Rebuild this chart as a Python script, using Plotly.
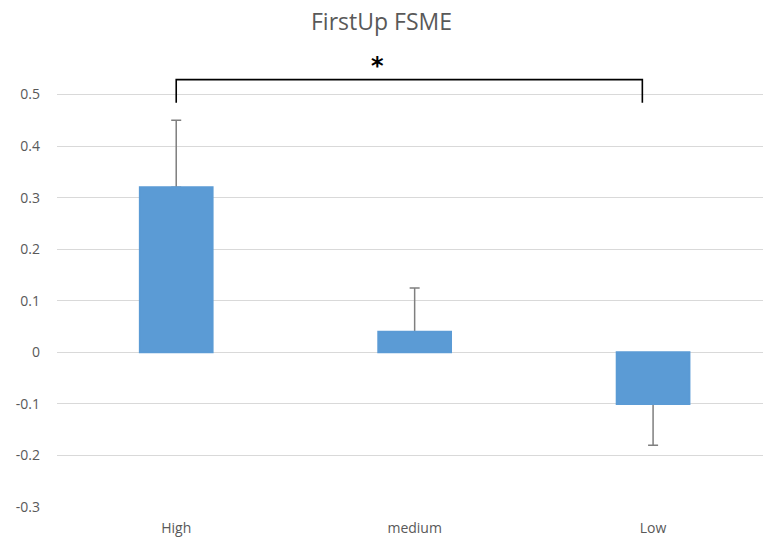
import plotly.graph_objects as go

# Group means and their one-sided error bars
categories = ["High", "medium", "Low"]
means = [0.32, 0.04, -0.10]
err_plus = [0.13, 0.085, 0.0]
err_minus = [0.0, 0.0, 0.08]

y_ticks = [-0.3, -0.2, -0.1, 0, 0.1, 0.2, 0.3, 0.4, 0.5]
y_tick_text = ["-0.3", "-0.2", "-0.1", "0", "0.1", "0.2", "0.3", "0.4", "0.5"]

# Significance bracket between High and Low
bracket_left = 0
bracket_right = 1.955
bracket_top = 0.529
bracket_foot = 0.484
star_x = 0.846
star_y = 0.556

bar_color = "#5B9BD5"
text_color = "#595959"
grid_color = "#D9D9D9"

idx = list(range(len(categories)))

fig = go.Figure()

# Error bars sit on a transparent layer underneath the visible bars
fig.add_trace(go.Bar(
    x=idx, y=means, width=0.305,
    marker=dict(color="rgba(0,0,0,0)", line=dict(width=0)),
    error_y=dict(type="data", symmetric=False, array=err_plus, arrayminus=err_minus,
                 color="#7F7F7F", thickness=1.5, width=5),
    hoverinfo="skip", showlegend=False,
))
fig.add_trace(go.Bar(
    x=idx, y=means, width=0.305,
    marker=dict(color=bar_color, line=dict(width=2, color=bar_color)),
    showlegend=False,
))

fig.add_shape(
    type="path", xref="x", yref="y",
    path=(f"M {bracket_left},{bracket_foot} L {bracket_left},{bracket_top} "
          f"L {bracket_right},{bracket_top} L {bracket_right},{bracket_foot}"),
    line=dict(color="#000000", width=1.6),
)
fig.add_annotation(
    x=star_x, y=star_y, xref="x", yref="y", text="<b>*</b>", showarrow=False,
    font=dict(family="DejaVu Sans", size=24, color="#000000"),
)

fig.update_layout(
    width=763, height=540,
    margin=dict(l=57, r=0, t=43, b=33),
    paper_bgcolor="white", plot_bgcolor="white",
    barmode="overlay",
    title=dict(text="FirstUp FSME", x=0.5, xanchor="center", y=0.96, yanchor="middle",
               font=dict(family="Open Sans", size=23, color=text_color)),
    font=dict(family="Open Sans", size=13, color=text_color),
    xaxis=dict(
        range=[-0.5, 2.461], tickvals=idx, ticktext=categories,
        showgrid=False, zeroline=False, showline=False, ticks="",
        ticklabelstandoff=11, tickfont=dict(size=14, color=text_color),
    ),
    yaxis=dict(
        range=[-0.3, 0.6], tickvals=y_ticks, ticktext=y_tick_text,
        showgrid=True, gridcolor=grid_color, gridwidth=1.2,
        zeroline=False, showline=False, ticks="",
        ticklabelstandoff=16, tickfont=dict(size=14, color=text_color),
    ),
)

fig.write_html("out.html")
